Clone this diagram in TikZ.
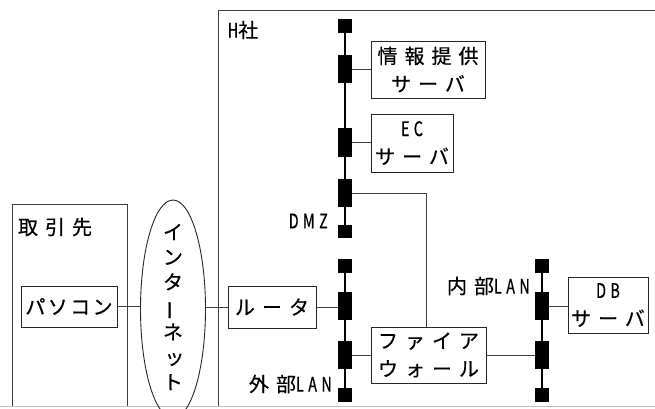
\documentclass[tikz,border=0pt]{standalone}
\usepackage{fontspec}
\usepackage{graphicx}
\usetikzlibrary{shapes.geometric}
\setmainfont{Noto Sans CJK JP}
\newfontfamily\jpf[LetterSpace=35,FakeBold=0.5]{Noto Sans CJK JP}
\newfontfamily\jptight[LetterSpace=12,FakeBold=0.5]{Noto Sans CJK JP}
\newfontfamily\jpv[FakeBold=0.5]{Noto Sans CJK JP}
\newfontfamily\latf[FakeStretch=0.72,LetterSpace=22,FakeBold=0.6]{Noto Sans CJK JP}
\newcommand\LT[1]{{\latf\fontsize{20}{28}\selectfont #1}}
\begin{document}
\begin{tikzpicture}[x=1pt,y=-1pt,
  jpfont/.style={font=\jpf\fontsize{20}{28}\selectfont},
  box/.style={draw=black!85,line width=0.9pt,inner sep=0pt,align=center,jpfont},
  frame/.style={draw=black!75,line width=1pt},
  conn/.style={draw=black!75,line width=0.9pt},
  bus/.style={draw=black,line width=2.2pt},
  blk/.style={fill=black,minimum width=13pt,minimum height=28pt,inner sep=0pt},
  sq/.style={fill=black,minimum width=13pt,minimum height=13pt,inner sep=0pt},
  lbl/.style={inner sep=0pt,align=center,jpfont}]
\useasboundingbox (0,0) rectangle (655,408);
% bottom border
\draw[draw=black!25,line width=1pt] (0,406.5) -- (655,406.5);
% region frames
\draw[frame] (12,406) -- (12,204) -- (127,204) -- (127,406);
\draw[frame] (218,406) -- (218,10) -- (655,10);
\node[lbl] (torihiki) at (55,227) {取引先};
\node[lbl] (hsha) at (243,30) {\LT{H}{\jpv\fontsize{20}{28}\selectfont 社}};
% DMZ bus
\node[sq] (dtop) at (345,26) {};
\node[blk] (d1) at (345,69) {};
\node[blk] (d2) at (345,142.5) {};
\node[blk] (d3) at (345,193) {};
\node[sq] (dbot) at (345,231.5) {};
% external LAN bus
\node[sq] (etop) at (345,266) {};
\node[blk] (e1) at (345,306) {};
\node[blk] (e2) at (345,355) {};
\node[sq] (ebot) at (345,395) {};
% internal LAN bus
\node[sq] (itop) at (542,266) {};
\node[blk] (i1) at (542,306) {};
\node[blk] (i2) at (542,355) {};
\node[sq] (ibot) at (542,395) {};
\draw[bus] (dtop.center) -- (dbot.center);
\draw[bus] (etop.center) -- (ebot.center);
\draw[bus] (itop.center) -- (ibot.center);
% redraw blocks on top
\foreach \n in {dtop,d1,d2,d3,dbot,etop,e1,e2,ebot,itop,i1,i2,ibot}{
  \fill[black] (\n.north west) rectangle (\n.south east);
}
% labels
\node[lbl,anchor=east] (dmz) at (328,221) {\LT{DMZ}};
\node[lbl,anchor=east] (ext) at (332,384) {外部\LT{LAN}};
\node[lbl,anchor=east] (int) at (530,286) {内部\LT{LAN}};
% boxes
\node[box,font=\jptight\fontsize{20}{28}\selectfont,minimum width=96pt,minimum height=41pt] (pc) at (69,306.5) {パソコン};
\node[box,minimum width=88pt,minimum height=42pt] (rt) at (272,307) {ルータ};
\node[box,minimum width=114pt,minimum height=57pt] (info) at (428,69.5) {情報提供\\サーバ};
\node[box,minimum width=82pt,minimum height=58pt] (ec) at (412,143) {\LT{EC}\\サーバ};
\node[box,minimum width=115pt,minimum height=56pt] (fw) at (428.5,355) {ファイア\\ウォール};
\node[box,minimum width=80pt,minimum height=56pt] (db) at (608,305) {\LT{DB}\\サーバ};
% internet ellipse
\node[ellipse,draw=black!85,line width=0.9pt,minimum width=65pt,minimum height=218pt,inner sep=0pt] (net) at (173,309) {};
\node[lbl,font=\jpv\fontsize{20}{25}\selectfont] (nettext) at (173,307) {イ\\ン\\タ\\\rotatebox[origin=c]{90}{ー}\\ネ\\\hspace{3pt}ッ\\ト};
% connectors
\draw[conn] (pc.east) -- (pc.east -| net.west);
\draw[conn] (rt.west -| net.east) -- (rt.west);
\draw[conn] (rt.east) -- (rt.east -| e1.west);
\draw[conn] (d1.east) -- (d1.east -| info.west);
\draw[conn] (d2.east) -- (d2.east -| ec.west);
\draw[conn] (d3.east) -| ([xshift=-2.5pt]fw.north);
\draw[conn] (e2.east) -- (e2.east -| fw.west);
\draw[conn] (fw.east) -- (fw.east -| i2.west);
\draw[conn] (i1.east) -- (i1.east -| db.west);
\end{tikzpicture}
\end{document}
